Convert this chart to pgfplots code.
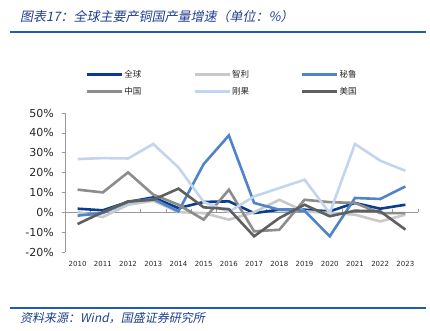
\documentclass[border=0pt]{standalone}
\usepackage{pgfplots}
\pgfplotsset{compat=1.18}
\usepackage{fontspec}
\setmainfont{DejaVu Sans}
\newfontfamily\cjk{Noto Sans CJK SC}
\newfontfamily\cjkit[FakeSlant=0.2]{Noto Sans CJK SC}
\definecolor{cglobal}{HTML}{0A3D91}
\definecolor{cchile}{HTML}{C9C9C9}
\definecolor{cperu}{HTML}{4F84C8}
\definecolor{cchina}{HTML}{8C8C8C}
\definecolor{ccongo}{HTML}{C3D5EE}
\definecolor{cusa}{HTML}{5F5F5F}
\definecolor{ctitle}{HTML}{1F3F8F}
\definecolor{cline}{HTML}{1E5BB5}
\begin{document}
\begin{tikzpicture}
\path[use as bounding box] (0,0) rectangle (430pt,331pt);
\node[anchor=west,text=ctitle,font=\cjkit\fontsize{13}{15}\selectfont,inner sep=0] at (20pt,314pt) {图表17：全球主要产铜国产量增速（单位：\%）};
\draw[cline,line width=1.2pt] (10pt,299pt) -- (426pt,299pt);
\draw[cline,line width=1.2pt] (10pt,23pt) -- (426pt,23pt);
\node[anchor=west,text=ctitle,font=\cjkit\fontsize{12}{14}\selectfont,inner sep=0] at (20pt,13pt) {资料来源：Wind，国盛证券研究所};
\begin{axis}[
  at={(65pt,79pt)}, anchor=south west,
  scale only axis, width=353pt, height=139pt,
  xmin=-0.5, xmax=13.5, ymin=-20, ymax=50,
  axis x line*=bottom,
  axis y line*=left,
  x axis line style={draw=none},
  y axis line style={draw=gray!80, line width=0.6pt},
  xtick={0,...,13},
  xticklabels={2010,2011,2012,2013,2014,2015,2016,2017,2018,2019,2020,2021,2022,2023},
  x tick style={draw=none},
  xticklabel style={font=\fontsize{7}{8}\selectfont, text=black!85, yshift=-3pt},
  ytick={-20,-10,0,10,20,30,40,50},
  yticklabels={-20\%,-10\%,0\%,10\%,20\%,30\%,40\%,50\%},
  y tick style={draw=gray!80, line width=0.6pt},
  tick align=outside, major tick length=3pt,
  yticklabel style={font=\fontsize{11}{12}\selectfont, text=black!85, inner sep=1pt, xshift=-7pt},
  clip=false,
  legend columns=3,
  legend style={at={(0.05,1.33)}, anchor=north west, draw=none, fill=none,
    font=\cjk\fontsize{8.5}{10}\selectfont, text=black!85,
    nodes={inner xsep=1pt, inner ysep=1pt, text width=68pt, align=left},
    row sep=6pt, column sep=0pt},
  legend image code/.code={\draw[#1,line width=2.6pt] (0pt,0pt) -- (35pt,0pt);},
  every axis plot/.append style={line width=2.6pt, mark=none},
]
\draw[gray!80, line width=0.6pt] (axis cs:-0.5,0) -- (axis cs:13.5,0);
\pgfplotsinvokeforeach{0.5,1.5,2.5,3.5,4.5,5.5,6.5,7.5,8.5,9.5,10.5,11.5,12.5,13.5}{\draw[gray!80, line width=0.6pt] (axis cs:#1,0) -- (axis cs:#1,1.5);}
\addplot[cglobal] coordinates {(0,1.8)(1,1.0)(2,5.2)(3,7.5)(4,2.1)(5,5.2)(6,5.5)(7,-0.4)(8,1.3)(9,1.3)(10,0.5)(11,4.7)(12,1.8)(13,3.8)};
\addlegendentry{全球}
\addplot[cchile] coordinates {(0,0.1)(1,-2.4)(2,3.8)(3,5.8)(4,0.1)(5,-0.4)(6,-3.7)(7,0.0)(8,6.3)(9,0.5)(10,-0.4)(11,-1.2)(12,-4.6)(13,-1.2)};
\addlegendentry{智利}
\addplot[cperu] coordinates {(0,-1.7)(1,-0.4)(2,5.2)(3,6.7)(4,0.5)(5,24.3)(6,38.7)(7,4.7)(8,1.3)(9,0.8)(10,-12.1)(11,7.2)(12,6.7)(13,13.0)};
\addlegendentry{秘鲁}
\addplot[cchina] coordinates {(0,11.4)(1,10.0)(2,20.1)(3,8.9)(4,3.8)(5,-3.7)(6,11.4)(7,-9.6)(8,-8.8)(9,6.3)(10,5.1)(11,4.7)(12,-0.4)(13,-0.4)};
\addlegendentry{中国}
\addplot[ccongo] coordinates {(0,26.8)(1,27.3)(2,27.1)(3,34.4)(4,22.6)(5,5.2)(6,0.2)(7,8.0)(8,12.2)(9,16.4)(10,-0.4)(11,34.4)(12,26.0)(13,20.9)};
\addlegendentry{刚果}
\addplot[cusa] coordinates {(0,-5.9)(1,0.1)(2,5.5)(3,6.3)(4,11.9)(5,2.5)(6,1.6)(7,-12.1)(8,-2.9)(9,3.8)(10,-2.0)(11,0.8)(12,0.5)(13,-8.7)};
\addlegendentry{美国}
\end{axis}
\end{tikzpicture}
\end{document}
